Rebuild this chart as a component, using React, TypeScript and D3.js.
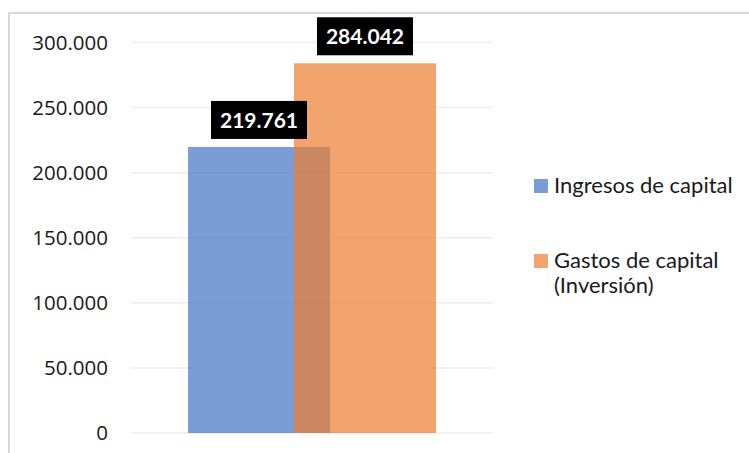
import React from "react";
import * as d3 from "d3";

const categories = ["Capital"];
const seriesNames = ["Ingresos de capital", "Gastos de capital (Inversión)"];
const seriesValues = [219761, 284042];
const legendLines = [["Ingresos de capital"], ["Gastos de capital", "(Inversión)"]];
const yTicks = [0, 50000, 100000, 150000, 200000, 250000, 300000];
const colors = ["#4472C4", "#ED7D31"];

const fmt = (v: number) => d3.format(",")(v).replace(/,/g, ".");

export default function App() {
  const W = 749, H = 453;
  const plotL = 131, plotR = 493;
  const y = d3.scaleLinear().domain([0, 300000]).range([433, 42.5]);
  const x0 = d3.scaleBand().domain(categories).range([plotL, plotR]).paddingOuter(0.23).paddingInner(0);
  const overlap = 0.2535;
  const bw = x0.bandwidth();
  const n = seriesValues.length;
  const barW = bw / (n - (n - 1) * overlap);
  const barX = (i: number) => (x0(categories[0]) as number) + i * barW * (1 - overlap);

  return (
    <svg width={W} height={H} style={{ position: "absolute", left: 0, top: 0, background: "#fff" }}>
      <line x1={8} x2={749} y1={13} y2={13} stroke="#D9D9D9" strokeWidth={2} />
      <line x1={9} x2={9} y1={12} y2={453} stroke="#D9D9D9" strokeWidth={2} />
      {yTicks.map((t) => (
        <g key={t}>
          <line x1={plotL} x2={plotR} y1={y(t)} y2={y(t)} stroke="#EDEDED" strokeWidth={1.5} />
          <text x={108} y={y(t) + 7} textAnchor="end" fontFamily="Open Sans" fontSize={20.5} fill="#1a1a1a">
            {fmt(t)}
          </text>
        </g>
      ))}
      {seriesValues.map((v, i) => (
        <rect key={i} x={barX(i)} y={y(v)} width={barW} height={y(0) - y(v)} fill={colors[i]} fillOpacity={0.7} />
      ))}
      {seriesValues.map((v, i) => {
        const cx = barX(i) + barW / 2;
        const bh = 38, bwid = 96;
        const by = y(v) - 8 - bh;
        return (
          <g key={"l" + i}>
            <rect x={cx - bwid / 2} y={by} width={bwid} height={bh} fill="#000" />
            <text x={cx} y={by + bh / 2 + 8} textAnchor="middle" fontFamily="Lato" fontWeight="bold" fontSize={21} fill="#fff">
              {fmt(v)}
            </text>
          </g>
        );
      })}
      {legendLines.map((lines, i) => {
        const top = 179 + i * 75;
        return (
          <g key={"lg" + i}>
            <rect x={534} y={top} width={14} height={14} fill={colors[i]} fillOpacity={0.7} />
            {lines.map((ln, j) => (
              <text key={j} x={554} y={top + 14 + j * 25} fontFamily="Lato" fontSize={22} fill="#1a1a1a">
                {ln}
              </text>
            ))}
          </g>
        );
      })}
    </svg>
  );
}
